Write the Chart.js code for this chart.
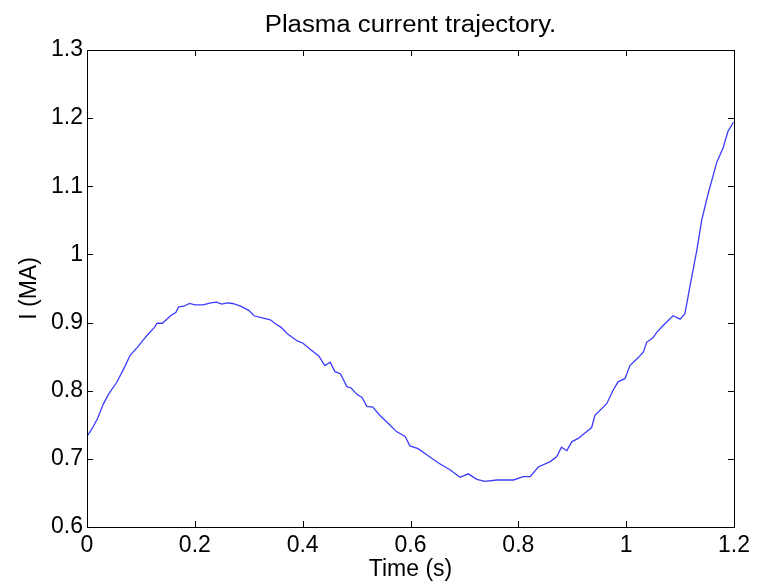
<!DOCTYPE html>
<html>
<head>
<meta charset="utf-8">
<script src="https://cdn.jsdelivr.net/npm/chart.js@4/dist/chart.umd.min.js"></script>
<style>
  html, body { margin: 0; padding: 0; background: #fff; }
  #wrap { width: 759px; height: 584px; }
</style>
</head>
<body>
<div id="wrap"><canvas id="c"></canvas></div>
<script>
// time (s) and plasma current (MA)
const timeS = [
  0, 0.01, 0.02, 0.03, 0.04, 0.055, 0.07, 0.08, 0.095, 0.11,
  0.125, 0.13, 0.14, 0.155, 0.165, 0.17, 0.18, 0.19, 0.2, 0.215,
  0.23, 0.24, 0.25, 0.26, 0.27, 0.285, 0.3, 0.31, 0.325, 0.34,
  0.35, 0.36, 0.371, 0.39, 0.4, 0.415, 0.43, 0.441, 0.451, 0.46,
  0.47, 0.482, 0.49, 0.5, 0.51, 0.519, 0.53, 0.543, 0.559, 0.574,
  0.59, 0.599, 0.614, 0.63, 0.652, 0.673, 0.692, 0.707, 0.723, 0.738,
  0.76, 0.791, 0.809, 0.822, 0.837, 0.859, 0.871, 0.88, 0.89, 0.899,
  0.911, 0.927, 0.936, 0.942, 0.964, 0.976, 0.985, 0.998, 1.007, 1.023,
  1.032, 1.038, 1.05, 1.057, 1.069, 1.087, 1.1, 1.109, 1.118, 1.131,
  1.14, 1.152, 1.168, 1.18, 1.189, 1.199
];
const currentMA = [
  0.733, 0.745, 0.76, 0.78, 0.795, 0.812, 0.835, 0.852, 0.865, 0.88,
  0.893, 0.899, 0.899, 0.91, 0.915, 0.923, 0.924, 0.928, 0.926, 0.926,
  0.929, 0.93, 0.927, 0.929, 0.928, 0.924, 0.918, 0.91, 0.907, 0.904,
  0.898, 0.893, 0.884, 0.873, 0.87, 0.86, 0.851, 0.837, 0.842, 0.828,
  0.825, 0.806, 0.804, 0.795, 0.79, 0.777, 0.776, 0.764, 0.752, 0.74,
  0.733, 0.719, 0.715, 0.706, 0.694, 0.684, 0.673, 0.678, 0.67, 0.667,
  0.669, 0.669, 0.674, 0.674, 0.688, 0.696, 0.703, 0.717, 0.712, 0.725,
  0.73, 0.74, 0.746, 0.764, 0.781, 0.801, 0.813, 0.818, 0.837, 0.849,
  0.857, 0.871, 0.878, 0.886, 0.896, 0.91, 0.905, 0.913, 0.952, 1.006,
  1.05, 1.089, 1.135, 1.157, 1.181, 1.194
];
const xTicks = { min: 0, max: 1.2, step: 0.2 };
const yTicks = { min: 0.6, max: 1.3, step: 0.1 };
const titleText = 'Plasma current trajectory.';

const FONT = "'Liberation Sans', Arial, sans-serif";
const fmt = v => String(+Number(v).toFixed(1));

// MATLAB-style box with inward ticks on all four sides, title centred on the axes
const boxTicks = {
  id: 'boxTicks',
  afterDraw(chart) {
    const { ctx, chartArea: A, scales } = chart;
    const len = 6;
    ctx.save();
    ctx.strokeStyle = '#000';
    ctx.lineWidth = 1;
    ctx.beginPath();
    for (const t of scales.x.ticks) {
      const px = Math.round(scales.x.getPixelForValue(t.value)) + 0.5;
      ctx.moveTo(px, A.bottom); ctx.lineTo(px, A.bottom - len);
      ctx.moveTo(px, A.top); ctx.lineTo(px, A.top + len);
    }
    for (const t of scales.y.ticks) {
      const py = Math.round(scales.y.getPixelForValue(t.value)) + 0.5;
      ctx.moveTo(A.left, py); ctx.lineTo(A.left + len, py);
      ctx.moveTo(A.right, py); ctx.lineTo(A.right - len, py);
    }
    ctx.stroke();
    ctx.strokeRect(Math.round(A.left) + 0.5, Math.round(A.top) + 0.5,
      Math.round(A.right - A.left), Math.round(A.bottom - A.top));

    // title: slightly wide lettering as in the source figure
    ctx.fillStyle = '#000';
    ctx.font = `23px ${FONT}`;
    ctx.textAlign = 'center';
    ctx.textBaseline = 'middle';
    ctx.translate((A.left + A.right) / 2, 26);
    ctx.scale(1.12, 1);
    ctx.fillText(titleText, 0, 0);
    ctx.restore();
  },
};

new Chart(document.getElementById('c'), {
  type: 'line',
  plugins: [boxTicks],
  data: {
    datasets: [{
      label: 'I',
      data: timeS.map((t, i) => ({ x: t, y: currentMA[i] })),
      borderColor: 'rgb(60,60,255)',
      borderWidth: 1.3,
      pointRadius: 0,
      tension: 0,
      fill: false,
    }],
  },
  options: {
    responsive: true,
    maintainAspectRatio: false,
    animation: false,
    layout: { padding: { left: 0, right: 25, top: 50, bottom: 0 } },
    plugins: {
      legend: { display: false },
      tooltip: { enabled: false },
      title: { display: false },
    },
    scales: {
      x: {
        type: 'linear',
        min: xTicks.min, max: xTicks.max,
        afterFit(s) { s.height = 57; },
        ticks: {
          stepSize: xTicks.step,
          color: '#000',
          padding: 5,
          maxRotation: 0,
          font: { family: FONT, size: 23 },
          callback: fmt,
        },
        grid: { drawOnChartArea: false, drawTicks: false },
        border: { display: false },
        title: {
          display: true, text: 'Time (s)', color: '#000',
          font: { family: FONT, size: 23 },
          padding: { top: 0, bottom: 1 },
        },
      },
      y: {
        type: 'linear',
        min: yTicks.min, max: yTicks.max,
        afterFit(s) { s.width = 87; },
        ticks: {
          stepSize: yTicks.step,
          color: '#000',
          padding: 4,
          font: { family: FONT, size: 23 },
          callback: fmt,
        },
        grid: { drawOnChartArea: false, drawTicks: false },
        border: { display: false },
        title: {
          display: true, text: 'I (MA)', color: '#000',
          font: { family: FONT, size: 23 },
          padding: { top: 16, bottom: 0 },
        },
      },
    },
  },
});
</script>
</body>
</html>
